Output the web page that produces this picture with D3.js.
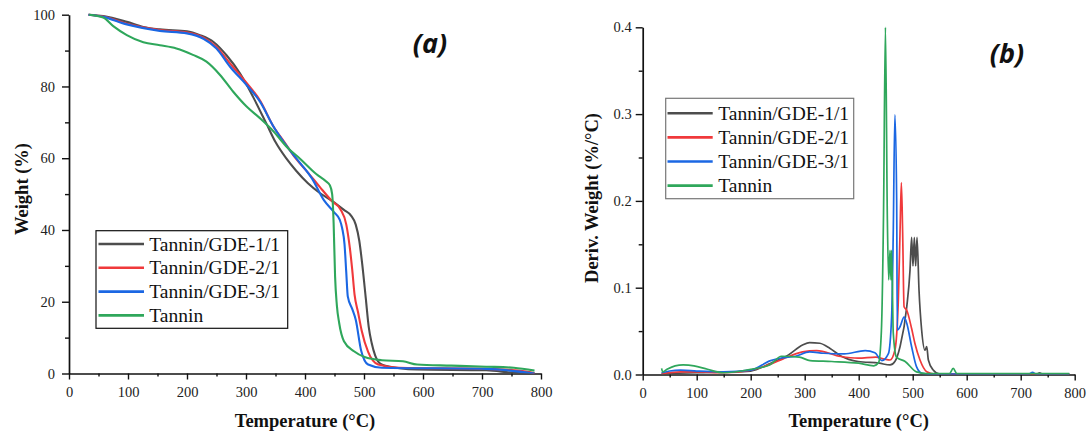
<!DOCTYPE html>
<html><head><meta charset="utf-8">
<script src="https://cdn.jsdelivr.net/npm/d3@7"></script>
<style>
html,body{margin:0;padding:0;background:#fff;}
svg{display:block;}
.tick text{font-family:"Liberation Serif","Times New Roman",serif;font-size:14.5px;fill:#222;}
</style></head>
<body>
<svg id="c" width="1091" height="436"></svg>
<script>
// ---------- DATA ----------
const seriesNames = ["Tannin/GDE-1/1","Tannin/GDE-2/1","Tannin/GDE-3/1","Tannin"];
const seriesColors = ["#4d4d4d","#f0393b","#1b67e3","#2fa75b"];

const xTicks = [0,100,200,300,400,500,600,700,800];
const xMinorTicks = [50,150,250,350,450,550,650,750];
const tgaYTicks = [0,20,40,60,80,100];
const tgaYMinorTicks = [10,30,50,70,90];
const dtgYTicks = [0,0.1,0.2,0.3,0.4];
const dtgYMinorTicks = [0.05,0.15,0.25,0.35];

// TGA (a): [temperature °C, weight %]
const tgaGDE11 = [[33,100],[58,99.6],[98,98],[126,96.6],[154,95.9],[200,95.4],[222,94.3],[245,92.4],[267,88.7],[290,83.6],[312,77.1],[335,69.5],[350,64.5],[368,60],[385,56.5],[405,53],[425,50.3],[445,48.2],[466,45.6],[478,44],[486,41.5],[492,37],[497,30.5],[503,21],[508,13],[513,8.5],[519,5],[530,2.5],[560,1.5],[590,1.1],[707,0.9],[754,0.2],[789,0]];
const tgaGDE21 = [[33,100],[58,99.5],[98,97.5],[154,95.7],[200,95],[228,93.6],[250,91],[273,86.4],[301,81],[324,76],[346,69],[365,64.5],[384,60],[405,56],[425,52],[446,48],[460,45.8],[470,41.5],[476,35],[480,29],[484,22],[490,17],[496,12],[507,6],[524,2.5],[560,1.6],[707,1.3],[778,0.5],[789,0]];
const tgaGDE31 = [[33,100],[58,99.4],[98,97.3],[154,95.5],[200,94.8],[228,93.3],[250,90.6],[273,85.5],[301,80.4],[324,75.7],[346,69],[365,64.3],[385,60],[412,54.3],[432,48.3],[449,45],[459,42.8],[463,40.5],[467,36],[470,28],[472.5,21.5],[480,18],[486,15],[495,6.5],[507,2.5],[530,1.6],[707,1.3],[789,0]];
const tgaTannin = [[34,100],[58,99.2],[75,96.8],[98,94.3],[126,92.3],[154,91.5],[182,90.6],[210,88.8],[233,86.9],[256,83.2],[278,78.6],[301,74.4],[324,71.1],[346,67.6],[370,63],[392,59.8],[419,55.6],[436,53.5],[442,52.5],[446,50],[448.5,42],[451,27],[454,19],[458,14],[466,9],[483,6.2],[501,4.6],[530,3.7],[566,3.4],[590,2.5],[648,2.2],[707,1.9],[754,1.6],[789,0.8]];

// DTG (b): [temperature °C, deriv. weight %/°C]
const dtgGDE11 = [[35,0.001],[100,0.002],[200,0.004],[237,0.013],[270,0.0226],[296,0.034],[309,0.0368],[328,0.036],[347,0.030],[367,0.0214],[399,0.015],[438,0.013],[458,0.011],[467,0.015],[476.5,0.032],[489,0.078],[495,0.12],[498,0.158],[500.5,0.125],[503,0.158],[505.5,0.125],[508,0.158],[511.7,0.097],[516.6,0.051],[522.7,0.028],[526,0.032],[529,0.0167],[538,0.0052],[550,0.0006],[730,0.0005],[735,0.002],[740,0.0005],[790,0.0005]];
const dtgGDE21 = [[35,0.001],[70,0.003],[100,0.003],[150,0.002],[200,0.005],[237,0.012],[260,0.018],[296,0.026],[322,0.0276],[367,0.0207],[399,0.0188],[432,0.02],[448,0.0176],[458,0.0167],[467,0.028],[473.4,0.086],[476.5,0.163],[479,0.221],[481.4,0.163],[484,0.078],[489,0.074],[498,0.053],[504,0.036],[513.5,0.0167],[526,0.0032],[540,0.0006],[790,0.0005]];
const dtgGDE31 = [[35,0.002],[50,0.004],[70,0.005],[100,0.004],[150,0.003],[200,0.005],[237,0.016],[257,0.019],[283,0.021],[309,0.026],[335,0.0245],[373,0.0237],[412,0.0276],[430,0.025],[443,0.016],[455,0.024],[461,0.067],[464,0.163],[467,0.299],[470.3,0.201],[471.5,0.051],[476.5,0.055],[484,0.066],[489,0.059],[498,0.032],[507,0.009],[517,0.0014],[530,0.0005],[715,0.0005],[722,0.0025],[728,0.0005],[790,0.0005]];
const dtgTannin = [[35,0.007],[37,0.003],[45,0.006],[60,0.010],[75,0.011],[95,0.010],[120,0.006],[150,0.002],[200,0.006],[235,0.011],[257,0.021],[290,0.02],[310,0.016],[350,0.015],[400,0.013],[428,0.010],[437,0.014],[442,0.05],[446,0.186],[449.5,0.40],[453,0.182],[455.5,0.109],[458,0.143],[459.8,0.109],[461,0.143],[464,0.048],[470,0.02],[486,0.015],[507,0.003],[526,0.001],[568,0.001],[575,0.007],[582,0.001],[790,0.001]];

const tgaSeries = [tgaGDE11,tgaGDE21,tgaGDE31,tgaTannin];
const dtgSeries = [dtgGDE11,dtgGDE21,dtgGDE31,dtgTannin];

// ---------- DRAW ----------
const svg = d3.select("#c");
const serif = '"Liberation Serif","Times New Roman",serif';

function panel(cfg){
  const x = d3.scaleLinear().domain([0,800]).range([cfg.x0,cfg.x1]);
  const y = d3.scaleLinear().domain(cfg.yDomain).range([cfg.y0,cfg.y1]);
  const g = svg.append("g");

  const clipId = "clip"+cfg.id;
  svg.append("clipPath").attr("id",clipId).append("rect")
    .attr("x",cfg.x0).attr("y",cfg.y1-2).attr("width",cfg.x1-cfg.x0+2).attr("height",cfg.y0-cfg.y1+2);

  // minor ticks
  g.append("g").attr("transform",`translate(0,${cfg.y0})`)
    .call(d3.axisBottom(x).tickValues(xMinorTicks).tickSize(3).tickFormat(""))
    .call(s=>s.select(".domain").remove());
  g.append("g").attr("transform",`translate(${cfg.x0},0)`)
    .call(d3.axisLeft(y).tickValues(cfg.yMinor).tickSize(4).tickFormat(""))
    .call(s=>s.select(".domain").remove());
  // major axes
  const ax = g.append("g").attr("transform",`translate(0,${cfg.y0})`)
    .call(d3.axisBottom(x).tickValues(xTicks).tickSize(6).tickSizeOuter(0).tickPadding(7).tickFormat(d3.format("d")));
  const ay = g.append("g").attr("transform",`translate(${cfg.x0},0)`)
    .call(d3.axisLeft(y).tickValues(cfg.yTicks).tickSize(7).tickSizeOuter(0).tickPadding(cfg.yPad).tickFormat(cfg.yFmt));
  g.selectAll(".domain").attr("stroke","#111").attr("stroke-width",1.7);
  g.selectAll(".tick line").attr("stroke","#111").attr("stroke-width",1.4);

  const line = d3.line().x(d=>x(d[0])).y(d=>y(d[1])).curve(d3.curveMonotoneX);
  const lg = svg.append("g").attr("clip-path",`url(#${clipId})`);
  cfg.series.forEach((s,i)=>{
    lg.append("path").datum(s).attr("d",line).attr("fill","none")
      .attr("stroke",seriesColors[i]).attr("stroke-width",cfg.lw)
      .attr("stroke-linejoin","round");
  });

  // axis titles
  svg.append("text").attr("x",(cfg.x0+cfg.x1)/2).attr("y",427)
    .attr("text-anchor","middle").attr("font-family",serif).attr("font-weight","bold")
    .attr("font-size","18.5px").attr("fill","#111").text("Temperature (°C)");
  svg.append("text").attr("transform",`translate(${cfg.ytx},${cfg.yty}) rotate(-90)`)
    .attr("text-anchor","middle").attr("font-family",serif).attr("font-weight","bold")
    .attr("font-size","18.5px").attr("fill","#111").text(cfg.yTitle);

  // panel label
  svg.append("text").attr("x",cfg.lbx).attr("y",cfg.lby).attr("text-anchor","middle")
    .attr("font-family",'"Open Sans","Noto Sans",sans-serif').attr("font-style","italic")
    .attr("font-weight","bold").attr("font-size","27px").attr("fill","#111").text(cfg.label);

  // legend
  const L = cfg.legend;
  svg.append("rect").attr("x",L.x).attr("y",L.y).attr("width",L.w).attr("height",L.h)
    .attr("fill","#fff").attr("stroke",L.stroke).attr("stroke-width",1.2);
  seriesNames.forEach((n,i)=>{
    const cy = L.row0 + i*L.dy;
    svg.append("line").attr("x1",L.lx0).attr("x2",L.lx1).attr("y1",cy).attr("y2",cy)
      .attr("stroke",seriesColors[i]).attr("stroke-width",2.6);
    svg.append("text").attr("x",L.tx).attr("y",cy+6.5).attr("font-family",serif)
      .attr("font-size","19.5px").attr("fill","#111").text(n);
  });
}

panel({id:"a",x0:69,x1:541,y0:373.5,y1:14.7,yDomain:[0,100],
  yTicks:tgaYTicks,yMinor:tgaYMinorTicks,yFmt:d3.format("d"),yPad:7,
  series:tgaSeries,lw:2.1,yTitle:"Weight (%)",ytx:28,yty:189,
  label:"(a)",lbx:430,lby:53,
  legend:{x:96,y:230.7,w:191.7,h:97.6,stroke:"#111",row0:244,dy:23.8,lx0:98.5,lx1:144,tx:149.3}});

panel({id:"b",x0:642.7,x1:1074.7,y0:374.5,y1:27.3,yDomain:[0,0.4],
  yTicks:dtgYTicks,yMinor:dtgYMinorTicks,yFmt:d3.format(".1f"),yPad:4,
  series:dtgSeries,lw:1.7,yTitle:"Deriv. Weight (%/°C)",ytx:598,yty:198,
  label:"(b)",lbx:1007,lby:63,
  legend:{x:665.7,y:98.3,w:188,h:100.4,stroke:"#777",row0:113.3,dy:24.1,lx0:667.5,lx1:712.7,tx:718.3}});
</script>
</body></html>
